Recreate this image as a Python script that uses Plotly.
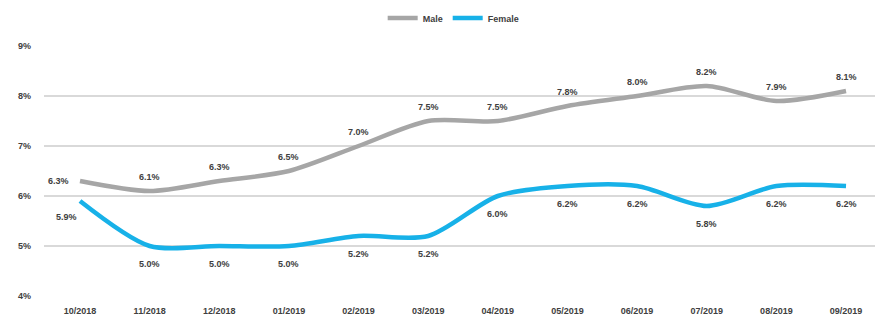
import plotly.graph_objects as go

months = ["10/2018", "11/2018", "12/2018", "01/2019", "02/2019", "03/2019",
          "04/2019", "05/2019", "06/2019", "07/2019", "08/2019", "09/2019"]
male = [6.3, 6.1, 6.3, 6.5, 7.0, 7.5, 7.5, 7.8, 8.0, 8.2, 7.9, 8.1]
female = [5.9, 5.0, 5.0, 5.0, 5.2, 5.2, 6.0, 6.2, 6.2, 5.8, 6.2, 6.2]
y_ticks = [4, 5, 6, 7, 8, 9]

GRAY = "#A6A6A6"
BLUE = "#17B1E8"
TEXT = "#404040"
FONT = "Liberation Sans Narrow, Liberation Sans, Arial"

fig = go.Figure()
fig.add_trace(go.Scatter(x=months, y=male, name="Male", mode="lines",
                         line=dict(color=GRAY, width=4.5, shape="spline", smoothing=0.8)))
fig.add_trace(go.Scatter(x=months, y=female, name="Female", mode="lines",
                         line=dict(color=BLUE, width=4.5, shape="spline", smoothing=0.8)))

label_font = dict(size=9, color=TEXT, family=FONT, weight="bold")

# value labels: male above the line, female below
for i, (m, v) in enumerate(zip(months, male)):
    if i == 0:
        fig.add_annotation(x=m, y=v, text=f"{v:.1f}%", showarrow=False,
                           xshift=-22, yshift=0, font=label_font)
    else:
        fig.add_annotation(x=m, y=v, text=f"{v:.1f}%", showarrow=False,
                           yshift=14, font=label_font)
for i, (m, v) in enumerate(zip(months, female)):
    fig.add_annotation(x=m, y=v, text=f"{v:.1f}%", showarrow=False,
                       xshift=-14 if i == 0 else 0, yshift=-16 if i == 0 else -18,
                       font=label_font)

fig.update_layout(
    width=875, height=320,
    margin=dict(l=44, r=0, t=46, b=24),
    paper_bgcolor="white", plot_bgcolor="white",
    font=dict(family=FONT, size=9, color=TEXT, weight="bold"),
    showlegend=True,
    legend=dict(orientation="h", x=0.493, xanchor="center", y=1.112, yanchor="middle",
                font=label_font, itemwidth=30, tracegroupgap=0),
    xaxis=dict(range=[-0.517, 11.416], showgrid=False, showline=False, zeroline=False,
               ticks="", ticklabelstandoff=8, tickfont=label_font),
    yaxis=dict(range=[4, 9], tickvals=y_ticks, ticktext=[f"{t}%" for t in y_ticks],
               showgrid=True, gridcolor="#D9D9D9", gridwidth=2, zeroline=False,
               showline=False, ticks="", ticklabelstandoff=12, tickfont=label_font),
)

fig.write_html("out.html")
